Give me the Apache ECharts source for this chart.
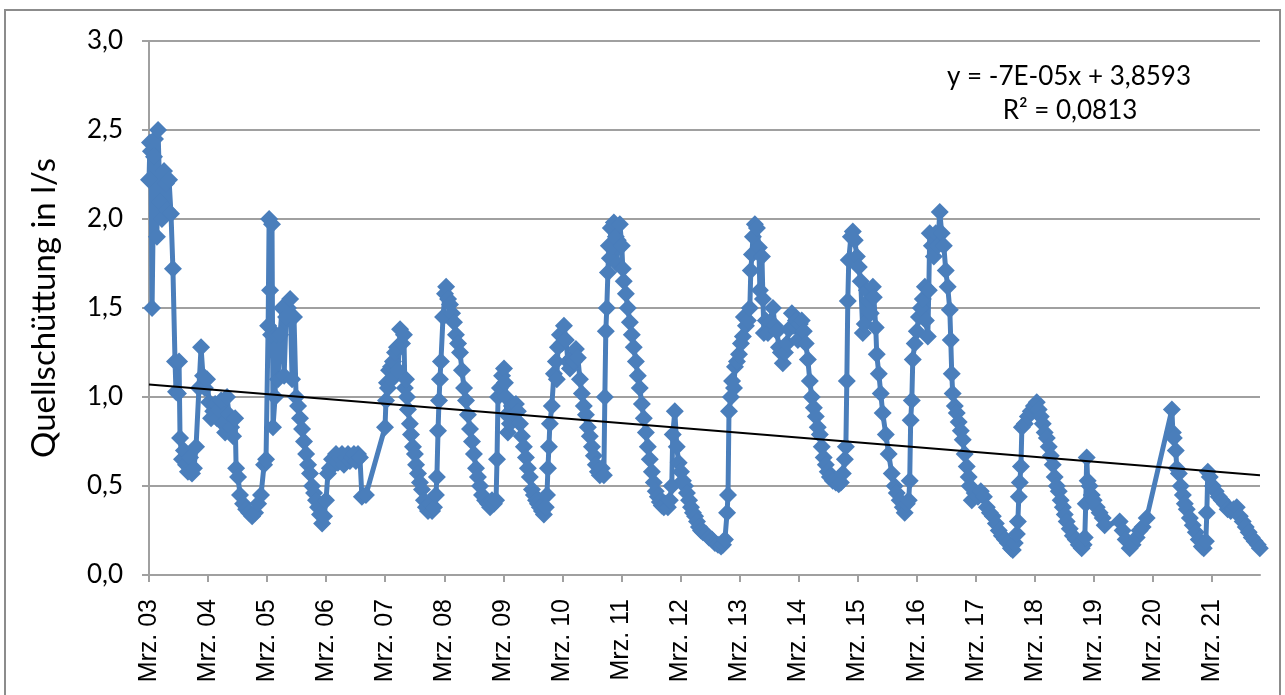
<!DOCTYPE html>
<html>
<head>
<meta charset="utf-8">
<title>Quellschüttung</title>
<script src="https://cdn.jsdelivr.net/npm/echarts@6/dist/echarts.min.js"></script>
<style>
  html, body { margin: 0; padding: 0; background: #fff; }
  #chart { width: 1285px; height: 695px; }
</style>
</head>
<body>
<div id="chart"></div>
<script>
const dates = [
  '2003-03-01','2003-03-07','2003-03-13','2003-03-20','2003-04-01','2003-04-07','2003-04-19','2003-04-26','2003-05-08','2003-05-20',
  '2003-06-02','2003-06-14','2003-06-20','2003-07-03','2003-07-15','2003-07-27','2003-08-09','2003-08-15','2003-08-27','2003-09-03',
  '2003-09-09','2003-09-21','2003-10-03','2003-10-16','2003-10-28','2003-11-10','2003-11-22','2003-12-04','2003-12-17','2004-01-04',
  '2004-01-17','2004-01-29','2004-02-10','2004-02-23',
  '2004-03-07','2004-03-19','2004-04-01','2004-04-13','2004-04-25','2004-05-08','2004-05-20','2004-06-01','2004-06-14','2004-06-26',
  '2004-07-08','2004-07-21','2004-08-02','2004-08-15','2004-08-21','2004-09-02','2004-09-14','2004-10-03','2004-10-22','2004-11-09',
  '2004-11-28','2004-12-16','2005-01-04','2005-01-22','2005-02-10','2005-02-22',
  '2005-03-07','2005-03-13','2005-03-19','2005-03-25','2005-03-31','2005-04-06','2005-04-19','2005-04-25','2005-05-07','2005-05-20',
  '2005-06-01','2005-06-14','2005-06-26','2005-07-08','2005-07-21','2005-08-02','2005-08-14','2005-08-27','2005-09-08','2005-09-20',
  '2005-10-03','2005-10-15','2005-10-28','2005-11-09','2005-11-21','2005-12-04','2005-12-16','2005-12-28','2006-01-10','2006-01-22',
  '2006-02-04','2006-02-16',
  '2006-02-28','2006-03-12','2006-03-24','2006-04-06','2006-04-18','2006-05-01','2006-05-13','2006-05-25','2006-06-07','2006-06-19',
  '2006-07-01','2006-07-14','2006-07-26','2006-08-08','2006-08-20','2006-09-01','2006-09-14','2006-09-26','2006-10-08','2006-11-02',
  '2007-02-28','2007-03-06','2007-03-12','2007-03-18','2007-03-25','2007-04-06','2007-04-12','2007-04-18','2007-05-01','2007-05-13',
  '2007-05-19','2007-06-01','2007-06-13','2007-06-25','2007-07-01','2007-07-08','2007-07-14','2007-07-20','2007-08-01','2007-08-08',
  '2007-08-20','2007-09-01','2007-09-08','2007-09-20','2007-10-02','2007-10-15','2007-10-27','2007-11-08','2007-11-21','2007-12-03',
  '2007-12-16','2007-12-28','2008-01-09','2008-01-15','2008-01-22','2008-01-28','2008-02-03','2008-02-09','2008-02-22',
  '2008-03-05','2008-03-12','2008-03-24','2008-04-05','2008-04-18','2008-04-30','2008-05-12','2008-05-25','2008-06-06','2008-06-18',
  '2008-07-01','2008-07-13','2008-07-25','2008-08-07','2008-08-19','2008-08-31','2008-09-13','2008-09-25','2008-10-08','2008-10-20',
  '2008-11-08','2008-11-26','2008-12-09','2008-12-21','2009-01-02','2009-01-15','2009-01-21','2009-01-27','2009-02-08','2009-02-21',
  '2009-03-05','2009-03-11','2009-03-17','2009-03-23','2009-03-29','2009-04-11','2009-04-23','2009-05-06','2009-05-18','2009-05-30',
  '2009-06-12','2009-06-24','2009-07-06','2009-07-19','2009-07-31','2009-08-12','2009-08-25','2009-09-06','2009-09-19','2009-10-01',
  '2009-10-13','2009-10-26','2009-11-07','2009-11-19','2009-11-26','2009-12-02','2009-12-08','2009-12-14','2009-12-26','2010-01-08',
  '2010-01-20','2010-01-26','2010-02-02','2010-02-14','2010-02-26',
  '2010-03-11','2010-03-23','2010-04-05','2010-04-17','2010-04-29','2010-05-12','2010-05-24','2010-06-05','2010-06-18','2010-06-30',
  '2010-07-12','2010-07-25','2010-08-06','2010-08-18','2010-08-31','2010-09-12','2010-09-24','2010-10-07','2010-10-19','2010-10-31',
  '2010-11-13','2010-11-19','2010-11-25','2010-12-01','2010-12-08','2010-12-14','2010-12-20','2010-12-26','2011-01-07','2011-01-14',
  '2011-01-26','2011-02-01','2011-02-07','2011-02-20',
  '2011-03-04','2011-03-10','2011-03-16','2011-03-29','2011-04-10','2011-04-23','2011-05-05','2011-05-17','2011-05-30','2011-06-11',
  '2011-06-23','2011-07-06','2011-07-18','2011-07-31','2011-08-12','2011-08-24','2011-09-06','2011-09-18','2011-09-30','2011-10-13',
  '2011-10-25','2011-11-06','2011-11-19','2011-12-01','2011-12-14','2011-12-26','2012-01-07','2012-01-13','2012-01-26','2012-02-07',
  '2012-02-19',
  '2012-03-04','2012-03-16','2012-03-29','2012-04-10','2012-04-23','2012-05-05','2012-05-17','2012-05-30','2012-06-11','2012-06-23',
  '2012-07-06','2012-07-18','2012-08-06','2012-08-24','2012-09-12','2012-09-30','2012-10-19','2012-11-07','2012-11-19','2012-12-01',
  '2012-12-14','2012-12-20','2012-12-26','2013-01-07','2013-01-14','2013-01-26','2013-02-01','2013-02-13','2013-02-26',
  '2013-03-10','2013-03-22','2013-03-28','2013-04-10','2013-04-22','2013-05-04','2013-05-10','2013-05-17','2013-05-23','2013-06-04',
  '2013-06-17','2013-06-29','2013-07-05','2013-07-18','2013-07-24','2013-07-30','2013-08-11','2013-08-24','2013-09-05','2013-09-24',
  '2013-10-06','2013-10-18','2013-10-31','2013-11-12','2013-11-24','2013-12-07','2013-12-19','2014-01-01','2014-01-19','2014-02-01',
  '2014-02-13','2014-02-25',
  '2014-03-09','2014-03-21','2014-04-03','2014-04-15','2014-04-28','2014-05-10','2014-05-22','2014-06-04','2014-06-16','2014-06-28',
  '2014-07-11','2014-07-23','2014-08-04','2014-08-17','2014-08-29','2014-09-11','2014-09-29','2014-10-18','2014-11-05','2014-11-18',
  '2014-11-30','2014-12-13','2014-12-19','2014-12-25','2014-12-31','2015-01-06','2015-01-19','2015-01-31','2015-02-12','2015-02-25',
  '2015-03-09','2015-03-21','2015-04-03','2015-04-15','2015-04-28','2015-05-10','2015-05-22','2015-06-04','2015-06-10','2015-06-22',
  '2015-06-28','2015-07-11','2015-07-23','2015-08-04','2015-08-23','2015-09-10','2015-09-29','2015-10-17','2015-10-30','2015-11-17',
  '2015-12-06','2015-12-18','2015-12-31','2016-01-12','2016-01-18','2016-01-24','2016-01-31','2016-02-06','2016-02-18',
  '2016-03-02','2016-03-15','2016-03-27','2016-04-08','2016-04-21','2016-04-27','2016-05-09','2016-05-15','2016-05-21','2016-06-03',
  '2016-06-15','2016-06-27','2016-07-10','2016-07-22','2016-08-03','2016-08-16','2016-08-28','2016-09-09','2016-09-22','2016-09-28',
  '2016-10-04','2016-10-10','2016-10-23','2016-11-04','2016-11-16','2016-11-29','2016-12-11','2016-12-23','2017-01-05','2017-01-17',
  '2017-01-23','2017-02-05','2017-02-23',
  '2017-03-15','2017-04-02','2017-04-21','2017-05-09','2017-05-28','2017-06-15','2017-07-04','2017-07-22','2017-08-10','2017-08-29',
  '2017-09-16','2017-10-05','2017-10-17','2017-10-29','2017-11-11','2017-11-17','2017-11-23','2017-11-29','2017-12-06','2017-12-12',
  '2017-12-30','2018-01-18','2018-02-05','2018-02-24',
  '2018-03-14','2018-03-26','2018-04-08','2018-04-20','2018-05-02','2018-05-15','2018-05-27','2018-06-09','2018-06-21','2018-07-03',
  '2018-07-16','2018-07-28','2018-08-09','2018-08-22','2018-09-03','2018-09-15','2018-10-04','2018-10-23','2018-11-10','2018-11-29',
  '2018-12-17','2018-12-29','2019-01-05','2019-01-11','2019-01-17','2019-01-23','2019-02-04','2019-02-17',
  '2019-03-01','2019-03-20','2019-04-07','2019-04-26','2019-05-08','2019-08-09','2019-08-27','2019-09-15','2019-10-10','2019-10-28',
  '2019-11-22','2019-12-10','2019-12-29','2020-01-23',
  '2020-06-27','2020-07-03','2020-07-09','2020-07-21','2020-07-27','2020-08-09','2020-08-21','2020-09-03','2020-09-15','2020-09-27',
  '2020-10-16','2020-11-03','2020-11-22','2020-12-10','2020-12-29','2021-01-10','2021-01-23','2021-01-29','2021-02-04','2021-02-16',
  '2021-03-07','2021-03-25','2021-04-13','2021-05-01','2021-05-20','2021-06-07','2021-06-26','2021-07-14','2021-08-02','2021-08-21',
  '2021-09-08','2021-09-27','2021-10-15','2021-11-03','2021-11-21','2021-12-10','2021-12-23'
];

const flow = [
  2.22, 2.43, 2.38, 1.50, 2.35, 2.45, 1.90, 2.50, 2.10, 2.00,
  2.27, 2.20, 2.05, 2.22, 2.03, 1.72, 1.20, 1.03, 1.02, 1.20,
  0.77, 0.65, 0.70, 0.62, 0.58, 0.66, 0.57, 0.60, 0.72, 1.05,
  1.28, 1.12, 1.05, 1.10,
  0.97, 0.88, 0.92, 0.96, 0.88, 0.93, 0.98, 0.85, 0.80, 1.00,
  0.90, 0.83, 0.78, 0.88, 0.60, 0.55, 0.45, 0.40, 0.37, 0.35,
  0.33, 0.35, 0.40, 0.45, 0.62, 0.65,
  1.40, 2.00, 1.60, 1.35, 1.97, 0.83, 1.00, 1.35, 1.10, 1.35,
  1.50, 1.12, 1.45, 1.50, 1.55, 1.10, 1.45, 1.00, 0.95, 0.88,
  0.82, 0.75, 0.68, 0.62, 0.57, 0.50, 0.46, 0.42, 0.38, 0.34,
  0.29, 0.33,
  0.42, 0.57, 0.60, 0.65, 0.62, 0.68, 0.63, 0.66, 0.68, 0.62,
  0.66, 0.68, 0.64, 0.66, 0.68, 0.64, 0.68, 0.66, 0.44, 0.45,
  0.83, 0.98, 1.08, 1.05, 1.15, 1.17, 1.10, 1.20, 1.25, 1.28,
  1.15, 1.38, 1.30, 1.35, 1.05, 1.10, 1.00, 0.93, 0.85, 0.79,
  0.72, 0.68, 0.62, 0.57, 0.52, 0.48, 0.42, 0.38, 0.36, 0.40,
  0.36, 0.38, 0.45, 0.55, 0.81, 0.98, 1.10, 1.20, 1.45,
  1.58, 1.62, 1.55, 1.52, 1.47, 1.42, 1.35, 1.30, 1.25, 1.15,
  1.05, 0.98, 0.90, 0.82, 0.75, 0.68, 0.60, 0.55, 0.50, 0.45,
  0.42, 0.40, 0.38, 0.42, 0.40, 0.42, 0.65, 1.00, 1.05, 1.12,
  1.16, 1.08, 1.00, 0.90, 0.80, 0.85, 0.95, 0.90, 0.96, 0.92,
  0.85, 0.78, 0.72, 0.66, 0.60, 0.55, 0.48, 0.45, 0.42, 0.40,
  0.38, 0.36, 0.34, 0.38, 0.45, 0.60, 0.72, 0.85, 0.95, 1.13,
  1.20, 1.10, 1.28, 1.35, 1.30,
  1.40, 1.32, 1.20, 1.16, 1.22, 1.20, 1.27, 1.22, 1.10, 1.02,
  0.95, 0.90, 0.83, 0.78, 0.72, 0.67, 0.62, 0.58, 0.56, 0.60,
  0.56, 1.00, 1.37, 1.50, 1.70, 1.85, 1.78, 1.95, 1.85, 1.98,
  1.90, 1.75, 1.88, 1.97,
  1.85, 1.72, 1.65, 1.58, 1.50, 1.42, 1.35, 1.28, 1.20, 1.12,
  1.05, 0.96, 0.88, 0.80, 0.72, 0.65, 0.58, 0.52, 0.47, 0.44,
  0.41, 0.39, 0.38, 0.40, 0.38, 0.42, 0.50, 0.79, 0.92, 0.72,
  0.63,
  0.58, 0.53, 0.50, 0.46, 0.42, 0.38, 0.35, 0.33, 0.30, 0.27,
  0.25, 0.24, 0.23, 0.21, 0.20, 0.18, 0.17, 0.16, 0.17, 0.20,
  0.35, 0.45, 0.92, 1.00, 1.09, 1.05, 1.17, 1.20, 1.24,
  1.30, 1.34, 1.45, 1.40, 1.43, 1.50, 1.71, 1.80, 1.90, 1.97,
  1.95, 1.84, 1.60, 1.79, 1.55, 1.36, 1.43, 1.36, 1.42, 1.50,
  1.40, 1.37, 1.28, 1.25, 1.19, 1.25, 1.30, 1.38, 1.47, 1.40,
  1.43, 1.32,
  1.41, 1.43, 1.37, 1.30, 1.21, 1.09, 1.00, 0.94, 0.89, 0.83,
  0.79, 0.72, 0.66, 0.62, 0.58, 0.55, 0.53, 0.52, 0.51, 0.52,
  0.57, 0.65, 0.72, 1.09, 1.54, 1.77, 1.90, 1.93, 1.88, 1.79,
  1.73, 1.65, 1.36, 1.41, 1.60, 1.54, 1.47, 1.62, 1.56, 1.39,
  1.24, 1.13, 1.02, 0.91, 0.79, 0.68, 0.57, 0.50, 0.46, 0.42,
  0.38, 0.35, 0.40, 0.42, 0.53, 0.87, 0.98, 1.21, 1.30,
  1.37, 1.45, 1.50, 1.55, 1.62, 1.43, 1.34, 1.60, 1.92, 1.85,
  1.79, 1.92, 1.85, 2.04, 1.92, 1.85, 1.71, 1.62, 1.49, 1.32,
  1.13, 1.02, 0.95, 0.91, 0.86, 0.81, 0.76, 0.68, 0.61, 0.55,
  0.50, 0.42, 0.46,
  0.44, 0.47, 0.44, 0.38, 0.35, 0.33, 0.29, 0.25, 0.22, 0.20,
  0.18, 0.15, 0.14, 0.18, 0.23, 0.30, 0.44, 0.52, 0.61, 0.83,
  0.85, 0.89, 0.92, 0.95,
  0.97, 0.93, 0.89, 0.85, 0.80, 0.77, 0.72, 0.67, 0.62, 0.55,
  0.50, 0.47, 0.42, 0.38, 0.34, 0.30, 0.26, 0.22, 0.20, 0.17,
  0.15, 0.17, 0.21, 0.40, 0.66, 0.53, 0.50, 0.45,
  0.42, 0.38, 0.35, 0.32, 0.28, 0.30, 0.25, 0.20, 0.15, 0.17,
  0.21, 0.25, 0.27, 0.32,
  0.93, 0.80, 0.77, 0.70, 0.60, 0.57, 0.50, 0.45, 0.40, 0.37,
  0.32, 0.28, 0.24, 0.20, 0.16, 0.15, 0.19, 0.35, 0.58, 0.55,
  0.50, 0.47, 0.44, 0.42, 0.40, 0.37, 0.36, 0.37, 0.38, 0.33,
  0.30, 0.27, 0.24, 0.21, 0.19, 0.17, 0.15
];

const trendDates = ['2003-03-01', '2021-12-24'];
const trendValues = [1.07, 0.56];
const trendText = ['y = -7E-05x + 3,8593', 'R² = 0,0813'];

// Achsenbeschriftung
const xTickDates = [
  '2003-03-01','2004-03-01','2005-03-01','2006-03-01','2007-03-01','2008-03-01','2009-03-01',
  '2010-03-01','2011-03-01','2012-03-01','2013-03-01','2014-03-01','2015-03-01','2016-03-01',
  '2017-03-01','2018-03-01','2019-03-01','2020-03-01','2021-03-01'
];
const xTickLabels = [
  'Mrz. 03','Mrz. 04','Mrz. 05','Mrz. 06','Mrz. 07','Mrz. 08','Mrz. 09','Mrz. 10','Mrz. 11','Mrz. 12',
  'Mrz. 13','Mrz. 14','Mrz. 15','Mrz. 16','Mrz. 17','Mrz. 18','Mrz. 19','Mrz. 20','Mrz. 21'
];
const xMin = '2003-03-01';
const xMax = '2021-12-24';

// Datum -> Tage (UTC), damit die Skala linear in Tagen läuft
const DAY = 86400000;
const toDay = (s) => {
  const [y, m, d] = s.split('-').map(Number);
  return Date.UTC(y, m - 1, d) / DAY;
};

const tickDays = xTickDates.map(toDay);
const seriesData = dates.map((d, i) => [toDay(d), flow[i]]);
const trendData = trendDates.map((d, i) => [toDay(d), trendValues[i]]);

const gridColor = '#a0a0a0';
const chart = echarts.init(document.getElementById('chart'));

chart.setOption({
  animation: false,
  backgroundColor: '#fff',
  grid: {
    left: 149,
    right: 25,
    top: 41,
    bottom: 120,
    containLabel: false,
    outerBoundsMode: 'none'
  },
  xAxis: {
    type: 'value',
    min: toDay(xMin),
    max: toDay(xMax),
    axisLine: { show: true, lineStyle: { color: gridColor, width: 2 } },
    axisTick: {
      show: true,
      customValues: tickDays,
      length: 7,
      lineStyle: { color: gridColor, width: 2 }
    },
    axisLabel: {
      customValues: tickDays,
      rotate: 90,
      margin: 24,
      color: '#000',
      fontFamily: 'Liberation Sans',
      fontSize: 25,
      formatter: (value) => {
        const i = tickDays.indexOf(value);
        return i >= 0 ? xTickLabels[i] : '';
      }
    },
    splitLine: { show: false },
    minorTick: { show: false }
  },
  yAxis: {
    type: 'value',
    min: 0,
    max: 3,
    interval: 0.5,
    name: 'Quellschüttung in l/s',
    nameLocation: 'middle',
    nameGap: 88,
    nameTextStyle: { color: '#000', fontFamily: 'Lato', fontSize: 33 },
    axisLine: { show: true, lineStyle: { color: gridColor, width: 2 } },
    axisTick: { show: true, length: 7, lineStyle: { color: gridColor, width: 2 } },
    axisLabel: {
      margin: 26,
      color: '#000',
      fontFamily: 'Lato',
      fontSize: 26,
      formatter: (v) => v.toFixed(1).replace('.', ',')
    },
    splitLine: { show: true, lineStyle: { color: gridColor, width: 2 } }
  },
  series: [
    {
      name: 'Quellschüttung',
      type: 'line',
      data: seriesData,
      showAllSymbol: true,
      symbol: 'diamond',
      symbolSize: 18,
      itemStyle: { color: '#4a7ebb', borderWidth: 0 },
      lineStyle: { color: '#4a7ebb', width: 5 },
      emphasis: { disabled: true },
      z: 2
    },
    {
      name: 'Trend',
      type: 'line',
      data: trendData,
      symbol: 'none',
      lineStyle: { color: '#000', width: 2 },
      emphasis: { disabled: true },
      z: 3
    }
  ],
  graphic: [
    {
      type: 'rect',
      shape: { x: 5, y: 10, width: 1275, height: 700 },
      style: { fill: 'none', stroke: '#8c8c8c', lineWidth: 2 },
      silent: true
    },
    {
      type: 'text',
      style: {
        x: 1069, y: 77, text: trendText[0],
        fill: '#000', fontFamily: 'Lato', fontSize: 26,
        align: 'center', verticalAlign: 'middle'
      }
    },
    {
      type: 'text',
      style: {
        x: 1070, y: 111, text: trendText[1],
        fill: '#000', fontFamily: 'Lato', fontSize: 26,
        align: 'center', verticalAlign: 'middle'
      }
    }
  ]
});
</script>
</body>
</html>
